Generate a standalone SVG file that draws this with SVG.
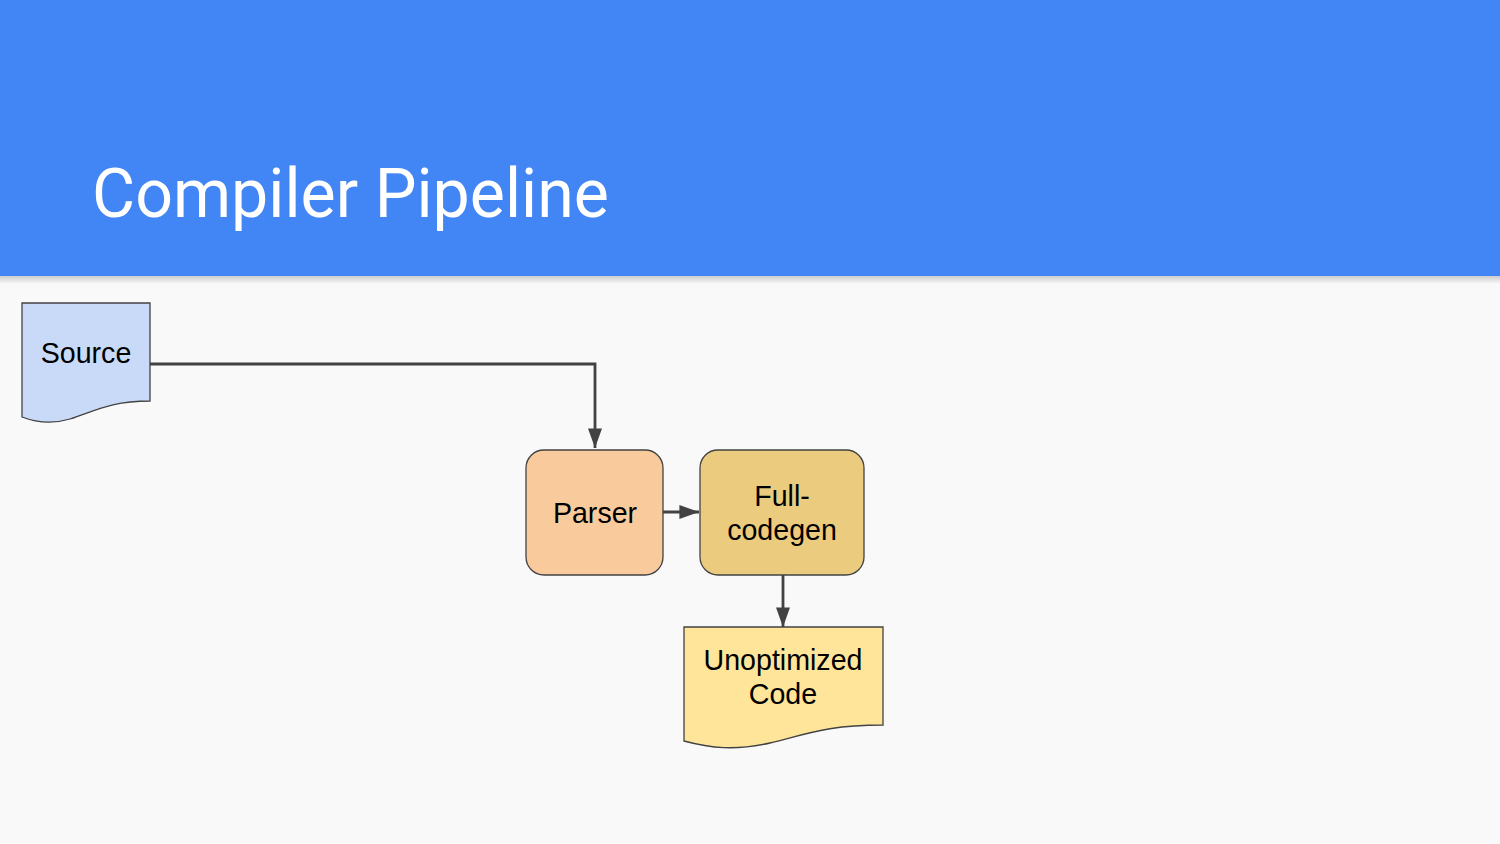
<svg xmlns="http://www.w3.org/2000/svg" width="1500" height="844" viewBox="0 0 1500 844">
<defs>
<linearGradient id="sh" x1="0" y1="0" x2="0" y2="1">
<stop offset="0" stop-color="#000" stop-opacity="0.18"/>
<stop offset="1" stop-color="#000" stop-opacity="0"/>
</linearGradient>
<marker id="arr" viewBox="0 0 10 10" refX="10" refY="5" markerWidth="7" markerHeight="5" markerUnits="strokeWidth" orient="auto" preserveAspectRatio="none">
<path d="M0,0 L10,5 L0,10 z" fill="#424242"/>
</marker>
<style>
.node{stroke:#424242;stroke-width:1.3}
.lbl{font-family:"Liberation Sans",Arial,sans-serif;font-size:28.6px;fill:#000;text-anchor:middle}
.conn{fill:none;stroke:#424242;stroke-width:2.8}
</style>
</defs>
<rect x="0" y="0" width="1500" height="844" fill="#f9f9f9"/>
<rect x="0" y="276" width="1500" height="8" fill="url(#sh)"/>
<rect x="0" y="0" width="1500" height="276" fill="#4285f4"/>
<text x="92" y="217" font-family="Roboto,sans-serif" font-size="68" fill="#ffffff" textLength="517" lengthAdjust="spacingAndGlyphs">Compiler Pipeline</text>
<g id="connectors">
<path class="conn" d="M150,364 L595,364 L595,448" marker-end="url(#arr)"/>
<path class="conn" d="M663,512 L699,512" marker-end="url(#arr)"/>
<path class="conn" d="M783,575 L783,627" marker-end="url(#arr)"/>
</g>
<g id="source">
<path class="node" fill="#c9daf8" d="M22,303 L150,303 L150,401 C110,401 95,411 70,419 C50,425 35,422 22,417 Z"/>
<text class="lbl" x="86" y="363">Source</text>
</g>
<g id="parser">
<rect class="node" fill="#f9cb9c" x="526" y="450" width="137" height="125" rx="18"/>
<text class="lbl" x="595" y="523">Parser</text>
</g>
<g id="fullcodegen">
<rect class="node" fill="#ebcc7e" x="700" y="450" width="164" height="125" rx="18"/>
<text class="lbl" x="782" y="506">Full-</text>
<text class="lbl" x="782" y="540">codegen</text>
</g>
<g id="unoptimized">
<path class="node" fill="#ffe599" d="M684,627 L883,627 L883,725 C830,725 810,733 770,743 C735,751 710,748 684,741 Z"/>
<text class="lbl" x="783" y="670">Unoptimized</text>
<text class="lbl" x="783" y="704">Code</text>
</g>
</svg>
